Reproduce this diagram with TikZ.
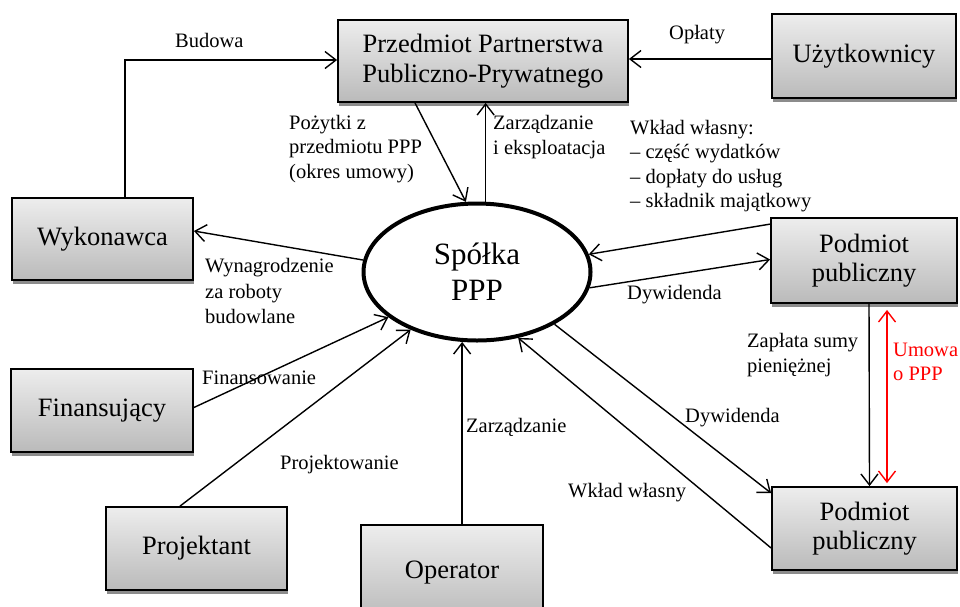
\documentclass[tikz,border=0pt]{standalone}
\usepackage{fontspec}
\setmainfont{Liberation Serif}
\usetikzlibrary{arrows.meta,shadows,shapes.geometric}

\tikzset{
  box/.style={draw=black, line width=1.8pt, rectangle, inner sep=2pt,
    top color=black!7, bottom color=black!27, align=center,
    font=\fontsize{26.5}{29.5}\selectfont,
    drop shadow={shadow xshift=1pt, shadow yshift=-4pt, fill=black!45, opacity=1}},
  hub/.style={draw=black, line width=4pt, ellipse, inner sep=0pt, align=center,
    font=\fontsize{31}{36}\selectfont},
  arr/.style={line width=1.4pt, -{Straight Barb[length=11pt,width=17pt]}},
  lbl/.style={inner sep=0pt, anchor=west, align=left,
    font=\fontsize{20.5}{24.5}\selectfont},
}

\begin{document}
\begin{tikzpicture}[x=1pt, y=-1pt]
\useasboundingbox (0,0) rectangle (960,606);
\clip (0,0) rectangle (960,606);

% actors
\node[box, minimum width=290, minimum height=82] (pp) at (483,61)
  {Przedmiot Partnerstwa\\Publiczno-Prywatnego};
\node[box, minimum width=184, minimum height=84] (uz) at (864,56) {Użytkownicy};
\node[box, minimum width=181, minimum height=82] (wyk) at (102.5,239) {Wykonawca};
\node[box, minimum width=182, minimum height=83] (fin) at (102,410.5) {Finansujący};
\node[box, minimum width=181, minimum height=83] (proj) at (196.5,548.5) {Projektant};
\node[box, minimum width=182, minimum height=95] (op) at (452,572.5) {Operator};
\node[box, minimum width=186, minimum height=85] (pu1) at (864,260.5) {Podmiot\\publiczny};
\node[box, minimum width=185, minimum height=83] (pu2) at (864.5,528.5) {Podmiot\\publiczny};

% the company in the middle
\node[hub, minimum width=227, minimum height=137] (sp) at (477,272) {Spółka\\PPP};

% flows
\draw[arr] ([xshift=22.5pt]wyk.north) |- ([yshift=1pt]pp.west);
\coordinate (opl) at ([yshift=2pt]pp.east);
\draw[arr] (opl -| uz.west) -- (opl);
\draw[arr] ([xshift=-68pt]pp.south) -- (sp.99);
\draw[arr] (sp.83) -- (sp.83 |- pp.south);
\draw[arr] ([yshift=-7pt]pu1.north west) -- (sp.9);
\draw[arr] (sp.-8) -- ([yshift=1pt]pu1.west);
\draw[arr] (sp.174) -- ([yshift=8pt]wyk.east);
\draw[arr] ([yshift=3pt]fin.east) -- (sp.207);
\draw[arr] ([xshift=-16.5pt]proj.north) -- (sp.221);
\draw[arr] (sp.258 |- op.north) -- (sp.258);
\draw[arr] ([yshift=-19.5pt]pu2.west) -- (sp.302);
\draw[arr] (sp.326) -- ([yshift=-7pt]pu2.north west);
\draw[arr] ([xshift=5pt]pu1.south) -- ([xshift=5pt]pu2.north);
\draw[red, line width=1.4pt,
  {Straight Barb[length=11pt,width=17pt]}-{Straight Barb[length=11pt,width=17pt]},
  shorten <=6pt, shorten >=3pt]
  ([xshift=23pt]pu1.south) -- ([xshift=22.5pt]pu2.north);

% flow labels
\node[lbl] (tBud) at (175,40) {Budowa};
\node[lbl] (tOpl) at (669,35) {Opłaty};
\node[lbl] (tPoz) at (289,149) {Pożytki z\\przedmiotu PPP\\(okres umowy)};
\node[lbl] (tZar) at (493,137) {Zarządzanie\\i eksploatacja};
\node[lbl] (tWkl) at (630,166) {Wkład własny:\\– część wydatków\\– dopłaty do usług\\– składnik majątkowy};
\node[lbl, font=\fontsize{20.5}{25.5}\selectfont] (tWyn) at (205,291) {Wynagrodzenie\\za roboty\\budowlane};
\node[lbl] (tDyw1) at (627,295) {Dywidenda};
\node[lbl] (tFin) at (202,378) {Finansowanie};
\node[lbl] (tPro) at (280,465) {Projektowanie};
\node[lbl] (tZop) at (466,427) {Zarządzanie};
\node[lbl] (tDyw2) at (685,418) {Dywidenda};
\node[lbl] (tWk2) at (568,493) {Wkład własny};
\node[lbl] (tZap) at (747,355) {Zapłata sumy\\pieniężnej};
\node[lbl, text=red] (tUm) at (893,362) {Umowa\\o PPP};
\end{tikzpicture}
\end{document}
